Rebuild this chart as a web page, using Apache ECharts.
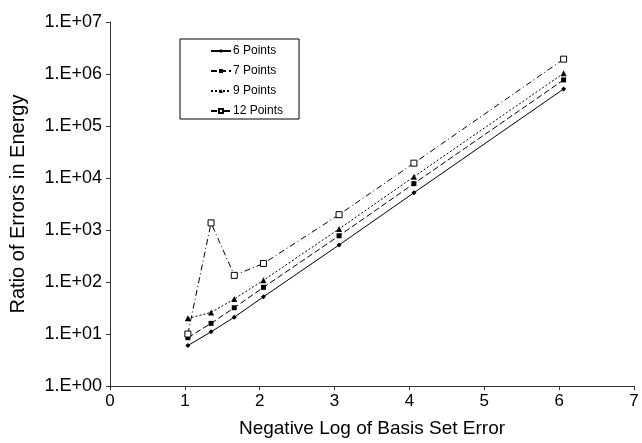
<!DOCTYPE html>
<html>
<head>
<meta charset="utf-8">
<script src="https://cdn.jsdelivr.net/npm/echarts@6/dist/echarts.min.js"></script>
<style>
html,body{margin:0;padding:0;background:#fff;}
#chart{width:642px;height:443px;}
</style>
</head>
<body>
<div id="chart"></div>
<script>
var xValues = [1.04, 1.35, 1.66, 2.05, 3.06, 4.06, 6.06];
var points6 = [6, 11, 21, 52, 515, 5200, 515000];
var points7 = [8.5, 16, 32, 79, 775, 7800, 770000];
var points9 = [20, 26, 47, 108, 1050, 10600, 1030000];
var points12 = [10, 1370, 134, 227, 1970, 19300, 1930000];
var seriesNames = ['6 Points', '7 Points', '9 Points', '12 Points'];
var xTicks = [0, 1, 2, 3, 4, 5, 6, 7];

function pairs(ys) { return xValues.map(function (x, i) { return [x, ys[i]]; }); }

var font = '"Liberation Sans", Arial, Helvetica, sans-serif';
var chart = echarts.init(document.getElementById('chart'), null, {renderer: 'canvas'});

function mk(name, data, symbol, size, dash, hollow) {
  var it = hollow ? {color: '#fff', borderColor: '#000', borderWidth: 1} : {color: '#000'};
  return {
    name: name, type: 'line', data: pairs(data),
    symbol: symbol, symbolSize: size, showSymbol: true,
    lineStyle: {color: '#000', width: 1, type: dash},
    itemStyle: it,
    emphasis: {disabled: true}, animation: false
  };
}

chart.setOption({
  backgroundColor: '#fff',
  animation: false,
  grid: {left: 109, right: 8, top: 22, bottom: 54, containLabel: false},
  legend: {
    orient: 'vertical', left: 180, top: 39,
    data: seriesNames,
    backgroundColor: '#fff', borderColor: '#000', borderWidth: 1,
    padding: [5, 16, 1, 30],
    itemWidth: 20, itemHeight: 5, itemGap: 6,
    textStyle: {fontFamily: font, fontSize: 12, color: '#000', lineHeight: 14, padding: [0,0,0,-3]}
  },
  xAxis: {
    type: 'value', min: 0, max: 7, interval: 1,
    name: 'Negative Log of Basis Set Error', nameLocation: 'middle', nameGap: 33,
    nameTextStyle: {fontFamily: font, fontSize: 19, color: '#000'},
    axisLine: {show: true, lineStyle: {color: '#333', width: 1}},
    axisTick: {show: true, inside: false, length: 4, lineStyle: {color: '#333'}},
    axisLabel: {fontFamily: font, fontSize: 17, color: '#000', margin: 7,
      formatter: function (v) { return xTicks.indexOf(v) >= 0 ? String(v) : ''; }},
    splitLine: {show: false}
  },
  yAxis: {
    type: 'log', logBase: 10, min: 1, max: 10000000,
    name: 'Ratio of Errors in Energy', nameLocation: 'middle', nameGap: 82,
    nameTextStyle: {fontFamily: font, fontSize: 20, color: '#000'},
    axisLine: {show: true, lineStyle: {color: '#333', width: 1}},
    axisTick: {show: true, inside: false, length: 4, lineStyle: {color: '#333'}},
    axisLabel: {fontFamily: font, fontSize: 18, color: '#000', margin: 8,
      formatter: function (v) { var e = Math.round(Math.log10(v)); return '1.E+' + (e < 10 ? '0' : '') + e; }},
    splitLine: {show: false}
  },
  series: [
    mk('6 Points', points6, 'diamond', 5, 'solid'),
    mk('7 Points', points7, 'rect', 5, [6, 3]),
    mk('9 Points', points9, 'triangle', 6, [2, 2]),
    mk('12 Points', points12, 'rect', 6, [6, 3, 1, 3], true)
  ]
});
</script>
</body>
</html>
